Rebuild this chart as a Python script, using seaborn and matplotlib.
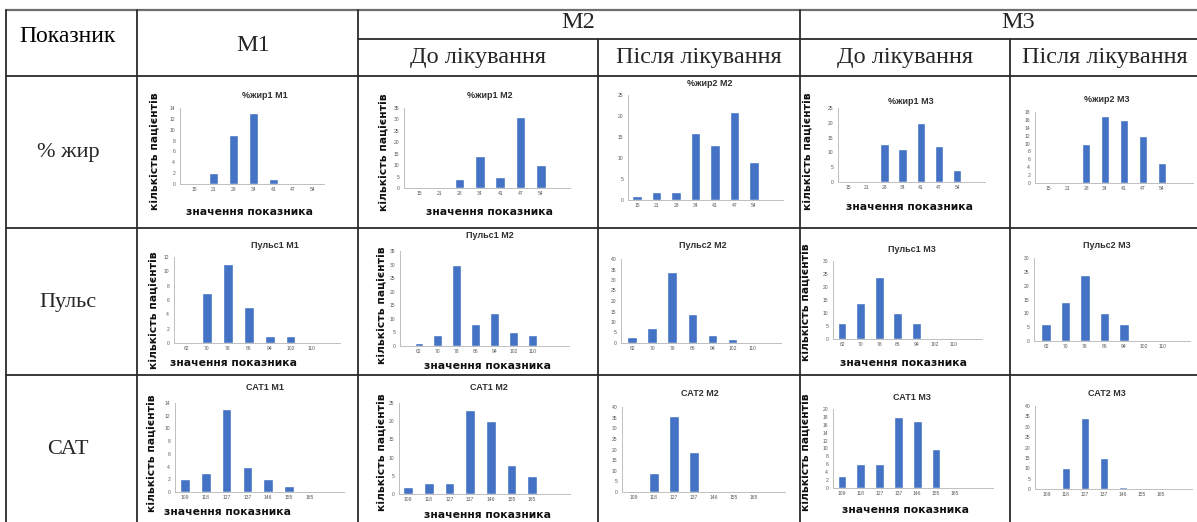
import matplotlib
matplotlib.use("Agg")
import matplotlib.pyplot as plt
from matplotlib.lines import Line2D
import seaborn as sns

# ---- histogram bins (category labels on the x axes) ----
fat_bins = ["15", "21", "28", "34", "41", "47", "54"]
pulse_bins = ["62", "70", "78", "86", "94", "102", "110"]
sbp_bins = ["109", "118", "127", "137", "146", "155", "165"]

# ---- patient counts per bin ----
fat1_m1 = [0, 2, 9, 13, 1, 0, 0]
fat1_m2 = [0, 0, 4, 14, 5, 31, 10]
fat2_m2 = [1, 2, 2, 16, 13, 21, 9]
fat1_m3 = [0, 0, 13, 11, 20, 12, 4]
fat2_m3 = [0, 0, 10, 17, 16, 12, 5]

pulse1_m1 = [0, 7, 11, 5, 1, 1, 0]
pulse1_m2 = [1, 4, 30, 8, 12, 5, 4]
pulse2_m2 = [3, 7, 34, 14, 4, 2, 0]
pulse1_m3 = [6, 14, 24, 10, 6, 0, 0]
pulse2_m3 = [6, 14, 24, 10, 6, 0, 0]

sbp1_m1 = [2, 3, 13, 4, 2, 1, 0]
sbp1_m2 = [2, 3, 3, 23, 20, 8, 5]
sbp2_m2 = [0, 9, 36, 19, 0, 0, 0]
sbp1_m3 = [3, 6, 6, 18, 17, 10, 0]
sbp2_m3 = [0, 10, 34, 15, 1, 0, 0]

# ---- table text ----
row_titles = ["% жир", "Пульс", "САТ"]
group_titles = ["М1", "М2", "М3"]
phase_titles = ["До лікування", "Після лікування"]
first_col_title = "Показник"
y_axis_label = "кількість пацієнтів"
x_axis_label = "значення показника"

sns.set_theme(style="white")
plt.rcParams["font.family"] = ["DejaVu Sans"]

W, H = 1197, 522
fig = plt.figure(figsize=(W / 100, H / 100), dpi=100)
fig.patch.set_facecolor("white")


def fx(x):
    return x / W


def fy(y):
    return 1 - y / H


def hline(y, x1, x2, lw=1.3, color="#2b2b2b"):
    fig.add_artist(Line2D([fx(x1), fx(x2)], [fy(y), fy(y)],
                          transform=fig.transFigure, color=color, lw=lw))


def vline(x, y1, y2, lw=1.3, color="#2b2b2b"):
    fig.add_artist(Line2D([fx(x), fx(x)], [fy(y1), fy(y2)],
                          transform=fig.transFigure, color=color, lw=lw))


# ---- table grid ----
hline(10, 6, W, lw=1.6, color="#6e6e6e")
hline(39, 358, W)
hline(76, 6, W)
hline(228, 6, W)
hline(375, 6, W)
vline(6, 10, H)
vline(137, 10, H)
vline(358, 10, H)
vline(598, 39, H)
vline(800, 10, H)
vline(1010, 39, H)

serif = "Liberation Serif"
HEAD = 17.5
fig.text(fx(68), fy(37), first_col_title, ha="center", va="center",
         fontsize=HEAD - 0.5, family=serif, color="black")
fig.text(fx(253), fy(45), group_titles[0], ha="center", va="center",
         fontsize=HEAD, family=serif)
fig.text(fx(578), fy(23), group_titles[1], ha="center", va="center",
         fontsize=HEAD, family=serif)
fig.text(fx(1018), fy(23), group_titles[2], ha="center", va="center",
         fontsize=HEAD, family=serif)
for cx, t in [(478, phase_titles[0]), (699, phase_titles[1]),
              (905, phase_titles[0]), (1105, phase_titles[1])]:
    fig.text(fx(cx), fy(57), t, ha="center", va="center",
             fontsize=HEAD, family=serif)
for cy, t in zip([152, 302, 450], row_titles):
    fig.text(fx(68), fy(cy), t, ha="center", va="center",
             fontsize=16, family=serif)

BAR = "#4472C4"
AXIS = "#BFBFBF"
TICK = "#595959"

# chart title, bins, counts, y max, y step, placement (pixels), label flags
charts = [
    ("%жир1 М1", fat_bins, fat1_m1, 14, 2, dict(xl=180, xr=324, top=108, base=184, x0=194, s=19.8, t=(265, 95), yl=(155, 151), xlab=(250, 212))),
    ("%жир1 М2", fat_bins, fat1_m2, 35, 5, dict(xl=404, xr=570, top=108, base=188, x0=419, s=20.3, t=(490, 95), yl=(384, 152), xlab=(490, 212))),
    ("%жир2 М2", fat_bins, fat2_m2, 25, 5, dict(xl=628, xr=783, top=95, base=200, x0=637, s=19.5, t=(710, 83))),
    ("%жир1 М3", fat_bins, fat1_m3, 25, 5, dict(xl=838, xr=985, top=108, base=182, x0=848, s=18.2, t=(911, 101), yl=(808, 151), xlab=(910, 207))),
    ("%жир2 М3", fat_bins, fat2_m3, 18, 2, dict(xl=1035, xr=1193, top=112, base=183, x0=1048, s=19.0, t=(1107, 99))),
    ("Пульс1 М1", pulse_bins, pulse1_m1, 12, 2, dict(xl=174, xr=340, top=257, base=343, x0=186, s=20.9, t=(275, 245), yl=(154, 310), xlab=(234, 363))),
    ("Пульс1 М2", pulse_bins, pulse1_m2, 35, 5, dict(xl=400, xr=569, top=251, base=346, x0=419, s=18.9, t=(490, 236), yl=(382, 305), xlab=(487, 366))),
    ("Пульс2 М2", pulse_bins, pulse2_m2, 40, 5, dict(xl=621, xr=781, top=259, base=343, x0=632, s=20.1, t=(703, 245))),
    ("Пульс1 М3", pulse_bins, pulse1_m3, 30, 5, dict(xl=833, xr=982, top=261, base=339, x0=842, s=18.6, t=(912, 250), yl=(806, 302), xlab=(903, 363))),
    ("Пульс2 М3", pulse_bins, pulse2_m3, 30, 5, dict(xl=1034, xr=1190, top=258, base=341, x0=1046, s=19.5, t=(1107, 245))),
    ("САТ1 М1", sbp_bins, sbp1_m1, 14, 2, dict(xl=175, xr=344, top=403, base=492, x0=185, s=20.8, t=(265, 388), yl=(152, 453), xlab=(227, 512))),
    ("САТ1 М2", sbp_bins, sbp1_m2, 25, 5, dict(xl=399, xr=570, top=403, base=494, x0=408, s=20.7, t=(489, 388), yl=(382, 452), xlab=(487, 515))),
    ("САТ2 М2", sbp_bins, sbp2_m2, 40, 5, dict(xl=622, xr=785, top=407, base=492, x0=634, s=20.0, t=(700, 393))),
    ("САТ1 М3", sbp_bins, sbp1_m3, 20, 2, dict(xl=833, xr=993, top=409, base=488, x0=842, s=18.8, t=(912, 397), yl=(806, 452), xlab=(905, 510))),
    ("САТ2 М3", sbp_bins, sbp2_m3, 40, 5, dict(xl=1035, xr=1192, top=406, base=489, x0=1047, s=19.0, t=(1107, 393))),
]

for title, bins, counts, ymax, step, p in charts:
    ax = fig.add_axes([fx(p["xl"]), fy(p["base"]),
                       (p["xr"] - p["xl"]) / W, (p["base"] - p["top"]) / H])
    sns.barplot(x=bins, y=counts, order=bins, ax=ax, color=BAR,
                saturation=1, width=0.47)
    ax.set_ylim(0, ymax)
    ax.set_yticks(list(range(0, ymax + 1, step)))
    ax.set_xlim((p["xl"] - p["x0"]) / p["s"], (p["xr"] - p["x0"]) / p["s"])
    ax.set_xlabel("")
    ax.set_ylabel("")
    ax.patch.set_alpha(0)
    for side in ("top", "right"):
        ax.spines[side].set_visible(False)
    for side in ("left", "bottom"):
        ax.spines[side].set_color(AXIS)
        ax.spines[side].set_linewidth(0.7)
    ax.tick_params(axis="y", length=2, width=0.5, color=AXIS,
                   labelsize=3.6, labelcolor=TICK, pad=1.5)
    ax.tick_params(axis="x", length=0, labelsize=3.6, labelcolor=TICK, pad=2.5)
    for lab in ax.get_xticklabels() + ax.get_yticklabels():
        lab.set_family("Liberation Sans")

    tx, ty = p["t"]
    fig.text(fx(tx), fy(ty), title, ha="center", va="center", fontsize=6.5,
             fontweight="bold", family="Liberation Sans", color="#303030")
    if "yl" in p:
        lx, ly = p["yl"]
        fig.text(fx(lx), fy(ly), y_axis_label, rotation=90, ha="center",
                 va="center", fontsize=7.8, fontweight="bold", color="#111111")
    if "xlab" in p:
        xx, xy = p["xlab"]
        fig.text(fx(xx), fy(xy), x_axis_label, ha="center", va="center",
                 fontsize=7.8, fontweight="bold", color="#111111")

fig.savefig("out.png", dpi=100, facecolor="white")
